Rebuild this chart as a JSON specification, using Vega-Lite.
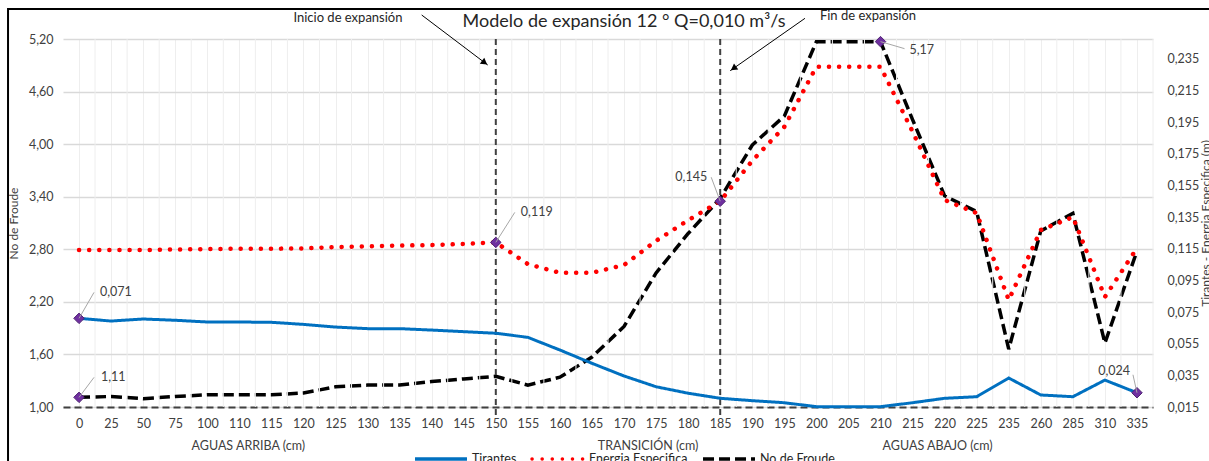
{
"$schema": "https://vega.github.io/schema/vega-lite/v6.json",
"width": 1090, "height": 368,
"autosize": {"type": "none"},
"padding": {"left": 63, "top": 39, "right": 56, "bottom": 54},
"background": "white",
"config": {
 "locale": {"number": {"decimal": ",", "thousands": ".", "grouping": [3], "currency": ["", " €"]}},
 "font": "Lato",
 "view": {"stroke": null},
 "axis": {"labelFont": "Lato", "labelFontSize": 12.5, "labelColor": "#404040", "titleFont": "Lato", "titleFontWeight": "normal", "titleColor": "#404040", "titleFontSize": 12},
 "legend": {"labelFont": "Lato"}
},
"datasets": {"serie": [
{"x":"0","Tirantes":0.071,"Energia":0.1142,"Froude":1.11},
{"x":"25","Tirantes":0.0693,"Energia":0.1142,"Froude":1.12},
{"x":"50","Tirantes":0.0706,"Energia":0.1142,"Froude":1.095},
{"x":"75","Tirantes":0.0698,"Energia":0.1145,"Froude":1.12},
{"x":"100","Tirantes":0.0687,"Energia":0.1148,"Froude":1.14},
{"x":"110","Tirantes":0.0687,"Energia":0.115,"Froude":1.14},
{"x":"115","Tirantes":0.0685,"Energia":0.115,"Froude":1.14},
{"x":"120","Tirantes":0.0672,"Energia":0.1152,"Froude":1.16},
{"x":"125","Tirantes":0.0655,"Energia":0.116,"Froude":1.23},
{"x":"130","Tirantes":0.0645,"Energia":0.1165,"Froude":1.25},
{"x":"135","Tirantes":0.0645,"Energia":0.117,"Froude":1.25},
{"x":"140","Tirantes":0.0636,"Energia":0.1173,"Froude":1.29},
{"x":"145","Tirantes":0.0626,"Energia":0.118,"Froude":1.32},
{"x":"150","Tirantes":0.0616,"Energia":0.119,"Froude":1.35},
{"x":"155","Tirantes":0.059,"Energia":0.1053,"Froude":1.25},
{"x":"160","Tirantes":0.051,"Energia":0.0998,"Froude":1.34},
{"x":"165","Tirantes":0.0426,"Energia":0.0998,"Froude":1.57},
{"x":"170","Tirantes":0.0346,"Energia":0.1047,"Froude":1.92},
{"x":"175","Tirantes":0.0278,"Energia":0.12,"Froude":2.53},
{"x":"180","Tirantes":0.0237,"Energia":0.133,"Froude":2.98},
{"x":"185","Tirantes":0.0205,"Energia":0.145,"Froude":3.38},
{"x":"190","Tirantes":0.019,"Energia":0.1706,"Froude":3.99},
{"x":"195","Tirantes":0.0177,"Energia":0.192,"Froude":4.32},
{"x":"200","Tirantes":0.0152,"Energia":0.23,"Froude":5.17},
{"x":"205","Tirantes":0.0152,"Energia":0.23,"Froude":5.17},
{"x":"210","Tirantes":0.0152,"Energia":0.23,"Froude":5.17},
{"x":"215","Tirantes":0.0177,"Energia":0.189,"Froude":4.28},
{"x":"220","Tirantes":0.0205,"Energia":0.1458,"Froude":3.41},
{"x":"225","Tirantes":0.0215,"Energia":0.1375,"Froude":3.23},
{"x":"235","Tirantes":0.0333,"Energia":0.0826,"Froude":1.66},
{"x":"260","Tirantes":0.0226,"Energia":0.1268,"Froude":3.01},
{"x":"285","Tirantes":0.0215,"Energia":0.135,"Froude":3.21},
{"x":"310","Tirantes":0.032,"Energia":0.0845,"Froude":1.73},
{"x":"335","Tirantes":0.024,"Energia":0.1154,"Froude":2.78}
]},
"data": {"name": "serie"},
"layer": [
 {
  "layer": [
   {
    "mark": {"type": "line", "color": "#000000", "strokeWidth": 3.5, "strokeCap": "butt"},
    "encoding": {
     "x": {"field": "x", "type": "ordinal", "sort": null,
      "scale": {"type": "point", "padding": 0.5, "domain": ["0","25","50","75","100","110","115","120","125","130","135","140","145","150","155","160","165","170","175","180","185","190","195","200","205","210","215","220","225","235","260","285","310","335"]},
      "axis": {"title": null, "labelAngle": 0, "ticks": false, "labelPadding": 10, "labelOverlap": false, "grid": true, "gridColor": "#eeeeee", "gridWidth": 1, "domain": true, "domainColor": "#404040", "domainWidth": 2, "domainDash": [7, 4]}},
     "y": {"field": "Froude", "type": "quantitative", "scale": {"domain": [1, 5.2], "nice": false, "zero": false},
      "axis": {"title": "No de Froude", "values": [1, 1.6, 2.2, 2.8, 3.4, 4, 4.6, 5.2], "tickCount": 20, "format": ".2f", "labelOverlap": false, "grid": true, "gridColor": "#d9d9d9", "gridWidth": 1.5, "domain": false, "ticks": false, "labelPadding": 10, "titlePadding": 8}},
     "color": {"datum": "No de Froude", "type": "nominal", "scale": {"domain": ["Tirantes", "Energia Especifica", "No de Froude"], "range": ["#0070C0", "#FF0000", "#000000"]},
      "legend": {"orient": "none", "legendX": 350, "legendY": 392, "direction": "horizontal", "title": null, "symbolType": "stroke", "symbolSize": 2700, "symbolStrokeWidth": 3.5, "labelFontSize": 12.5, "labelColor": "#262626", "columnPadding": 8, "labelOffset": 3,
       "encode": {"symbols": {"update": {"strokeCap": {"signal": "datum.value === 'Energia Especifica' ? 'round' : 'butt'"}}}}}},
     "strokeDash": {"datum": "No de Froude", "type": "nominal", "scale": {"domain": ["Tirantes", "Energia Especifica", "No de Froude"], "range": [[1, 0], [0.1, 10], [11, 5]]}}
    }
   },
   {
    "data": {"values": [{}]},
    "mark": {"type": "rect", "fill": "transparent", "stroke": "#000000", "strokeWidth": 2, "xOffset": -71, "x2Offset": 123, "yOffset": -30, "y2Offset": 80, "clip": false},
    "encoding": {
     "x": {"datum": "0", "type": "ordinal"},
     "x2": {"datum": "335"},
     "y": {"datum": 5.2, "type": "quantitative"},
     "y2": {"datum": 1}
    }
   },
   {
    "mark": {"type": "rule", "color": "#eeeeee", "strokeWidth": 1, "xOffset": 16.03},
    "encoding": {
     "x": {"field": "x", "type": "ordinal"},
     "y": {"datum": 5.2, "type": "quantitative"},
     "y2": {"datum": 1}
    }
   },
   {
    "transform": [{"filter": "datum.x === '150' || datum.x === '185'"}],
    "mark": {"type": "rule", "color": "#404040", "strokeWidth": 2, "strokeDash": [6, 4], "y2Offset": 8},
    "encoding": {
     "x": {"field": "x", "type": "ordinal"},
     "y": {"datum": 5.2, "type": "quantitative"},
     "y2": {"datum": 1}
    }
   },
   {
    "transform": [{"filter": "datum.x === '0' || datum.x === '210'"}],
    "mark": {"type": "point", "shape": "diamond", "filled": true, "size": 110, "color": "#7030A0", "stroke": "#4b2070", "strokeWidth": 1, "opacity": 1},
    "encoding": {
     "x": {"field": "x", "type": "ordinal"},
     "y": {"field": "Froude", "type": "quantitative"}
    }
   },
   {
    "transform": [{"filter": "datum.x === '0'"}],
    "encoding": {
     "x": {"field": "x", "type": "ordinal"},
     "y": {"field": "Froude", "type": "quantitative"}
    },
    "layer": [
     {"mark": {"type": "rule", "color": "#a6a6a6", "strokeWidth": 1, "x2Offset": 15, "y2Offset": -20}, "encoding": {"x2": {"field": "x"}, "y2": {"field": "Froude"}}},
     {"mark": {"type": "text", "align": "left", "baseline": "middle", "dx": 22, "dy": -20, "fontSize": 12.5, "color": "#404040"}, "encoding": {"text": {"field": "Froude", "type": "quantitative", "format": ".2f"}}}
    ]
   },
   {
    "transform": [{"filter": "datum.x === '210'"}],
    "encoding": {
     "x": {"field": "x", "type": "ordinal"},
     "y": {"field": "Froude", "type": "quantitative"}
    },
    "layer": [
     {"mark": {"type": "rule", "color": "#a6a6a6", "strokeWidth": 1, "x2Offset": 24, "y2Offset": 7}, "encoding": {"x2": {"field": "x"}, "y2": {"field": "Froude"}}},
     {"mark": {"type": "text", "align": "left", "baseline": "middle", "dx": 29, "dy": 8, "fontSize": 12.5, "color": "#404040"}, "encoding": {"text": {"field": "Froude", "type": "quantitative", "format": ".2f"}}}
    ]
   },
   {
    "data": {"values": [{}]},
    "layer": [
     {"mark": {"type": "text", "text": "Modelo de expansión 12 ° Q=0,010 m³/s", "align": "center", "baseline": "middle", "fontSize": 18, "color": "#262626"},
      "encoding": {"x": {"datum": "170", "type": "ordinal"}, "y": {"datum": 5.394, "type": "quantitative"}}},
     {"mark": {"type": "text", "text": "Inicio de expansión", "align": "center", "baseline": "middle", "dx": 44.5, "fontSize": 13, "color": "#262626"},
      "encoding": {"x": {"datum": "120", "type": "ordinal"}, "y": {"datum": 5.44, "type": "quantitative"}}},
     {"mark": {"type": "text", "text": "Fin de expansión", "align": "center", "baseline": "middle", "dx": 19.5, "fontSize": 13, "color": "#262626"},
      "encoding": {"x": {"datum": "205", "type": "ordinal"}, "y": {"datum": 5.462, "type": "quantitative"}}},
     {"mark": {"type": "rule", "color": "#000000", "strokeWidth": 1, "xOffset": -10, "x2Offset": -8},
      "encoding": {"x": {"datum": "140", "type": "ordinal"}, "x2": {"datum": "150"}, "y": {"datum": 5.474, "type": "quantitative"}, "y2": {"datum": 4.903}}},
     {"mark": {"type": "point", "shape": "triangle-right", "angle": 37, "filled": true, "size": 55, "color": "#000000", "opacity": 1, "xOffset": -11.2, "yOffset": -2.4},
      "encoding": {"x": {"datum": "150", "type": "ordinal"}, "y": {"datum": 4.903, "type": "quantitative"}}},
     {"mark": {"type": "rule", "color": "#000000", "strokeWidth": 1, "xOffset": -11.4, "x2Offset": 10},
      "encoding": {"x": {"datum": "200", "type": "ordinal"}, "x2": {"datum": "185"}, "y": {"datum": 5.436, "type": "quantitative"}, "y2": {"datum": 4.838}}},
     {"mark": {"type": "point", "shape": "triangle-right", "angle": 145, "filled": true, "size": 55, "color": "#000000", "opacity": 1, "xOffset": 13.3, "yOffset": -2.3},
      "encoding": {"x": {"datum": "185", "type": "ordinal"}, "y": {"datum": 4.838, "type": "quantitative"}}},
     {"mark": {"type": "text", "text": "AGUAS ARRIBA (cm)", "align": "center", "baseline": "middle", "dx": 9, "fontSize": 12.5, "color": "#404040"},
      "encoding": {"x": {"datum": "110", "type": "ordinal"}, "y": {"datum": 0.555, "type": "quantitative"}}},
     {"mark": {"type": "text", "text": "TRANSICIÓN (cm)", "align": "center", "baseline": "middle", "dx": -8, "fontSize": 12.5, "color": "#404040"},
      "encoding": {"x": {"datum": "175", "type": "ordinal"}, "y": {"datum": 0.555, "type": "quantitative"}}},
     {"mark": {"type": "text", "text": "AGUAS ABAJO (cm)", "align": "center", "baseline": "middle", "dx": -7, "fontSize": 12.5, "color": "#404040"},
      "encoding": {"x": {"datum": "220", "type": "ordinal"}, "y": {"datum": 0.555, "type": "quantitative"}}}
    ]
   }
  ]
 },
 {
  "layer": [
   {
    "mark": {"type": "line", "color": "#0070C0", "strokeWidth": 3},
    "encoding": {
     "x": {"field": "x", "type": "ordinal"},
     "y": {"field": "Tirantes", "type": "quantitative", "scale": {"domain": [0.015, 0.2475], "nice": false, "zero": false},
      "axis": {"orient": "right", "title": "Tirantes - Energia Especifica (m)", "titleAngle": 270, "titleAnchor": "middle", "values": [0.015, 0.035, 0.055, 0.075, 0.095, 0.115, 0.135, 0.155, 0.175, 0.195, 0.215, 0.235], "tickCount": 20, "format": ".3f", "labelOverlap": false, "grid": false, "domain": false, "ticks": false, "labelPadding": 14, "titlePadding": 14}},
     "color": {"datum": "Tirantes", "type": "nominal"},
     "strokeDash": {"datum": "Tirantes", "type": "nominal"}
    }
   },
   {
    "mark": {"type": "line", "strokeWidth": 4.5, "strokeCap": "round"},
    "encoding": {
     "x": {"field": "x", "type": "ordinal"},
     "y": {"field": "Energia", "type": "quantitative"},
     "color": {"datum": "Energia Especifica", "type": "nominal"},
     "strokeDash": {"datum": "Energia Especifica", "type": "nominal"}
    }
   },
   {
    "transform": [{"filter": "datum.x === '0' || datum.x === '335'"}],
    "mark": {"type": "point", "shape": "diamond", "filled": true, "size": 110, "color": "#7030A0", "stroke": "#4b2070", "strokeWidth": 1, "opacity": 1},
    "encoding": {
     "x": {"field": "x", "type": "ordinal"},
     "y": {"field": "Tirantes", "type": "quantitative"}
    }
   },
   {
    "transform": [{"filter": "datum.x === '150' || datum.x === '185'"}],
    "mark": {"type": "point", "shape": "diamond", "filled": true, "size": 110, "color": "#7030A0", "stroke": "#4b2070", "strokeWidth": 1, "opacity": 1},
    "encoding": {
     "x": {"field": "x", "type": "ordinal"},
     "y": {"field": "Energia", "type": "quantitative"}
    }
   },
   {
    "transform": [{"filter": "datum.x === '0'"}],
    "encoding": {
     "x": {"field": "x", "type": "ordinal"},
     "y": {"field": "Tirantes", "type": "quantitative"}
    },
    "layer": [
     {"mark": {"type": "rule", "color": "#a6a6a6", "strokeWidth": 1, "x2Offset": 15, "y2Offset": -26}, "encoding": {"x2": {"field": "x"}, "y2": {"field": "Tirantes"}}},
     {"mark": {"type": "text", "align": "left", "baseline": "middle", "dx": 21, "dy": -26, "fontSize": 12.5, "color": "#404040"}, "encoding": {"text": {"field": "Tirantes", "type": "quantitative", "format": ".3f"}}}
    ]
   },
   {
    "transform": [{"filter": "datum.x === '335'"}],
    "encoding": {
     "x": {"field": "x", "type": "ordinal"},
     "y": {"field": "Tirantes", "type": "quantitative"}
    },
    "layer": [
     {"mark": {"type": "rule", "color": "#a6a6a6", "strokeWidth": 1, "x2Offset": -4, "y2Offset": -18}, "encoding": {"x2": {"field": "x"}, "y2": {"field": "Tirantes"}}},
     {"mark": {"type": "text", "align": "right", "baseline": "middle", "dx": -7, "dy": -22, "fontSize": 12.5, "color": "#404040"}, "encoding": {"text": {"field": "Tirantes", "type": "quantitative", "format": ".3f"}}}
    ]
   },
   {
    "transform": [{"filter": "datum.x === '150'"}],
    "encoding": {
     "x": {"field": "x", "type": "ordinal"},
     "y": {"field": "Energia", "type": "quantitative"}
    },
    "layer": [
     {"mark": {"type": "rule", "color": "#a6a6a6", "strokeWidth": 1, "x2Offset": 19, "y2Offset": -30}, "encoding": {"x2": {"field": "x"}, "y2": {"field": "Energia"}}},
     {"mark": {"type": "text", "align": "left", "baseline": "middle", "dx": 25, "dy": -30, "fontSize": 12.5, "color": "#404040"}, "encoding": {"text": {"field": "Energia", "type": "quantitative", "format": ".3f"}}}
    ]
   },
   {
    "transform": [{"filter": "datum.x === '185'"}],
    "encoding": {
     "x": {"field": "x", "type": "ordinal"},
     "y": {"field": "Energia", "type": "quantitative"}
    },
    "layer": [
     {"mark": {"type": "rule", "color": "#a6a6a6", "strokeWidth": 1, "x2Offset": -9, "y2Offset": -24}, "encoding": {"x2": {"field": "x"}, "y2": {"field": "Energia"}}},
     {"mark": {"type": "text", "align": "right", "baseline": "middle", "dx": -13, "dy": -24, "fontSize": 12.5, "color": "#404040"}, "encoding": {"text": {"field": "Energia", "type": "quantitative", "format": ".3f"}}}
    ]
   }
  ]
 }
],
"resolve": {"scale": {"y": "independent"}}
}
